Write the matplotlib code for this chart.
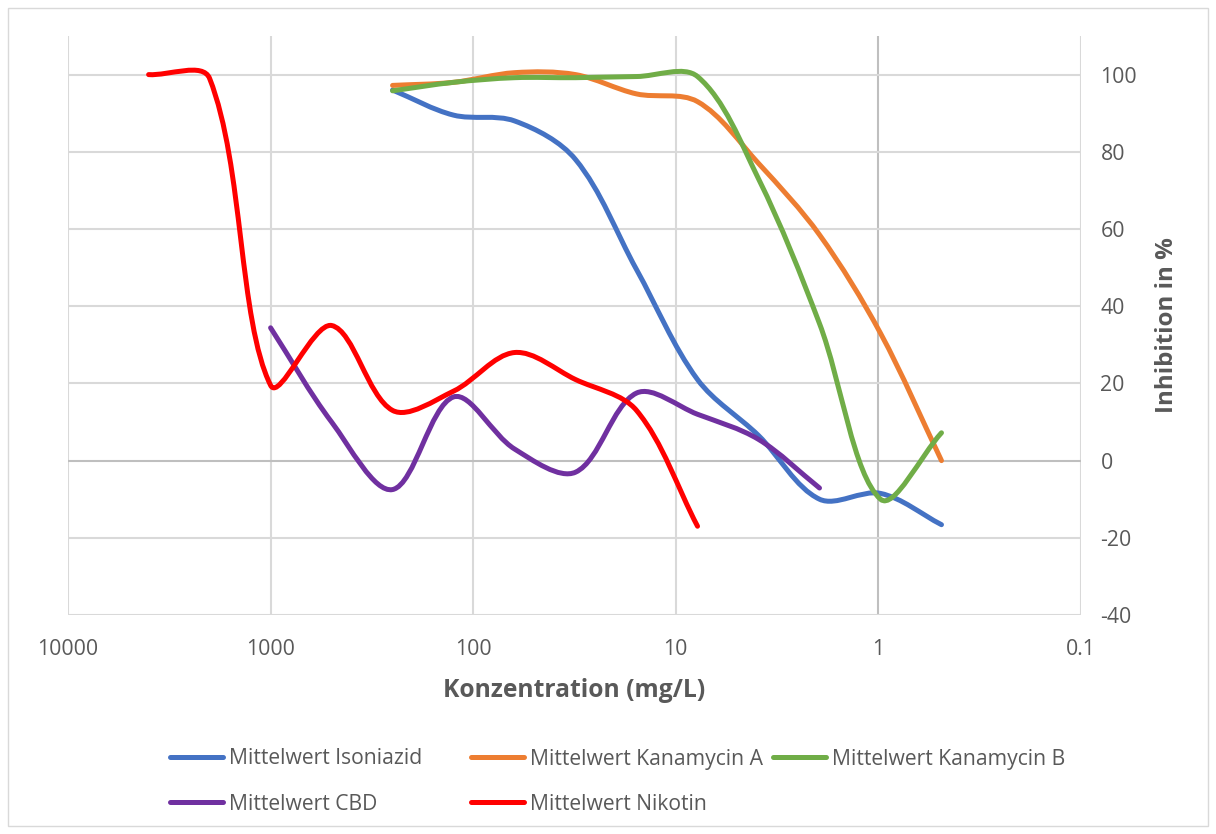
import numpy as np
import matplotlib
matplotlib.use('Agg')
import matplotlib.pyplot as plt
from matplotlib.path import Path
from matplotlib.patches import PathPatch, Rectangle
from matplotlib.lines import Line2D

plt.rcParams['font.family'] = ['Open Sans', 'DejaVu Sans']
plt.rcParams['axes.unicode_minus'] = False

# concentrations (mg/L)
conc_long = [4000, 2000, 1000, 500, 250, 125, 62.5, 31.25, 15.625, 7.8125]
conc_cbd = [1000, 500, 250, 125, 62.5, 31.25, 15.625, 7.8125, 3.90625, 1.953125]
conc_drug = [250, 125, 62.5, 31.25, 15.625, 7.8125, 3.90625, 1.953125, 0.9765625, 0.48828125]

isoniazid = [96, 89.5, 88, 78, 49.5, 21, 6.5, -10, -8.5, -16.6]
kanamycin_a = [97.2, 98, 100.5, 100, 95, 93, 77, 58.5, 33, 0]
kanamycin_b = [95.8, 98, 99.2, 99.2, 99.5, 99.5, 73, 35.5, -10, 7.2]
cbd = [34.4, 10, -7.5, 16.5, 3, -3, 17.5, 12, 5.5, -7.1]
nikotin = [100, 99, 19.5, 35, 13, 18, 28, 21, 13, -17]

series = [
    ('Mittelwert Isoniazid', conc_drug, isoniazid, '#4472C4'),
    ('Mittelwert Kanamycin A', conc_drug, kanamycin_a, '#ED7D31'),
    ('Mittelwert Kanamycin B', conc_drug, kanamycin_b, '#70AD47'),
    ('Mittelwert CBD', conc_cbd, cbd, '#7030A0'),
    ('Mittelwert Nikotin', conc_long, nikotin, '#FF0000'),
]

x_ticks = [10000, 1000, 100, 10, 1, 0.1]
x_ticklabels = ['10000', '1000', '100', '10', '1', '0.1']
y_ticks = [-40, -20, 0, 20, 40, 60, 80, 100]

TEXT = '#595959'
GRID = '#D9D9D9'
AXLINE = '#BFBFBF'


def smooth_path(xs, ys, sx=202.5, sy=3.857):
    '''
    Excel-like smoothed line: cubic bezier segments whose control points are
    computed in (roughly) pixel space, i.e. log10(x) for the x axis.
    '''
    u = np.log10(np.asarray(xs, float)) * sx
    v = np.asarray(ys, float) * sy
    pts = np.column_stack([u, v])
    n = len(pts)
    verts = [pts[0]]
    codes = [Path.MOVETO]
    for i in range(n - 1):
        p0 = pts[max(i - 1, 0)]
        p1 = pts[i]
        p2 = pts[i + 1]
        p3 = pts[min(i + 2, n - 1)]
        d01 = np.hypot(*(p1 - p0))
        d12 = np.hypot(*(p2 - p1))
        d23 = np.hypot(*(p3 - p2))
        c1 = p1 + (p2 - p0) * d12 / (d01 + d12) / 3
        c2 = p2 - (p3 - p1) * d12 / (d12 + d23) / 3
        verts += [c1, c2, p2]
        codes += [Path.CURVE4] * 3
    verts = np.array(verts)
    verts[:, 0] = 10 ** (verts[:, 0] / sx)
    verts[:, 1] = verts[:, 1] / sy
    return Path(verts, codes)


fig = plt.figure(figsize=(12.16, 8.34), dpi=100)
fig.patch.set_facecolor('white')
fig.patches.append(Rectangle((8 / 1216, 8 / 834), 1200 / 1216, 818 / 834,
                             transform=fig.transFigure, fill=False,
                             edgecolor='#D9D9D9', linewidth=1))

ax = fig.add_axes([68 / 1216, 1 - 615 / 834, (1081 - 68) / 1216, (615 - 36) / 834])
ax.set_xscale('log')
ax.set_xlim(10000, 0.1)
ax.set_ylim(-40, 110)

for s in ax.spines.values():
    s.set_visible(False)

for xv in x_ticks:
    ax.axvline(xv, color=AXLINE if xv == 1 else GRID, lw=1.5, zorder=1)
for yv in y_ticks:
    ax.axhline(yv, color=AXLINE if yv == 0 else GRID, lw=1.5, zorder=1)

for name, xs, ys, col in series:
    patch = PathPatch(smooth_path(xs, ys), fill=False, edgecolor=col, lw=3.6,
                      capstyle='round', joinstyle='round', zorder=3)
    ax.add_patch(patch)

ax.set_xticks(x_ticks)
ax.set_xticklabels(x_ticklabels)
ax.xaxis.set_minor_locator(matplotlib.ticker.NullLocator())
ax.set_yticks(y_ticks)
ax.yaxis.tick_right()
ax.tick_params(axis='both', length=0, labelsize=15.3, labelcolor=TEXT)
ax.tick_params(axis='x', pad=17)
ax.tick_params(axis='y', pad=14)

ax.set_xlabel('Konzentration (mg/L)', fontsize=17.7, fontweight='bold', color=TEXT, labelpad=13)
ax.yaxis.set_label_position('right')
ax.set_ylabel('Inhibition in %', fontsize=17.4, fontweight='bold', color=TEXT, labelpad=13)

# legend entries laid out like Excel (row-major, equal columns)
leg_pos = [(170, 759), (471, 759), (773, 759), (170, 804), (471, 804)]
for (name, xs, ys, col), (lx, ly) in zip(series, leg_pos):
    h = Line2D([], [], color=col, lw=3.6, solid_capstyle='round')
    fig.legend([h], [name], loc='center left', bbox_to_anchor=(lx / 1216, 1 - ly / 834),
               frameon=False, fontsize=15.2, labelcolor=TEXT, borderpad=0,
               borderaxespad=0, handlelength=2.5, handletextpad=0.3)

fig.savefig('out.png', dpi=100, facecolor='white')
